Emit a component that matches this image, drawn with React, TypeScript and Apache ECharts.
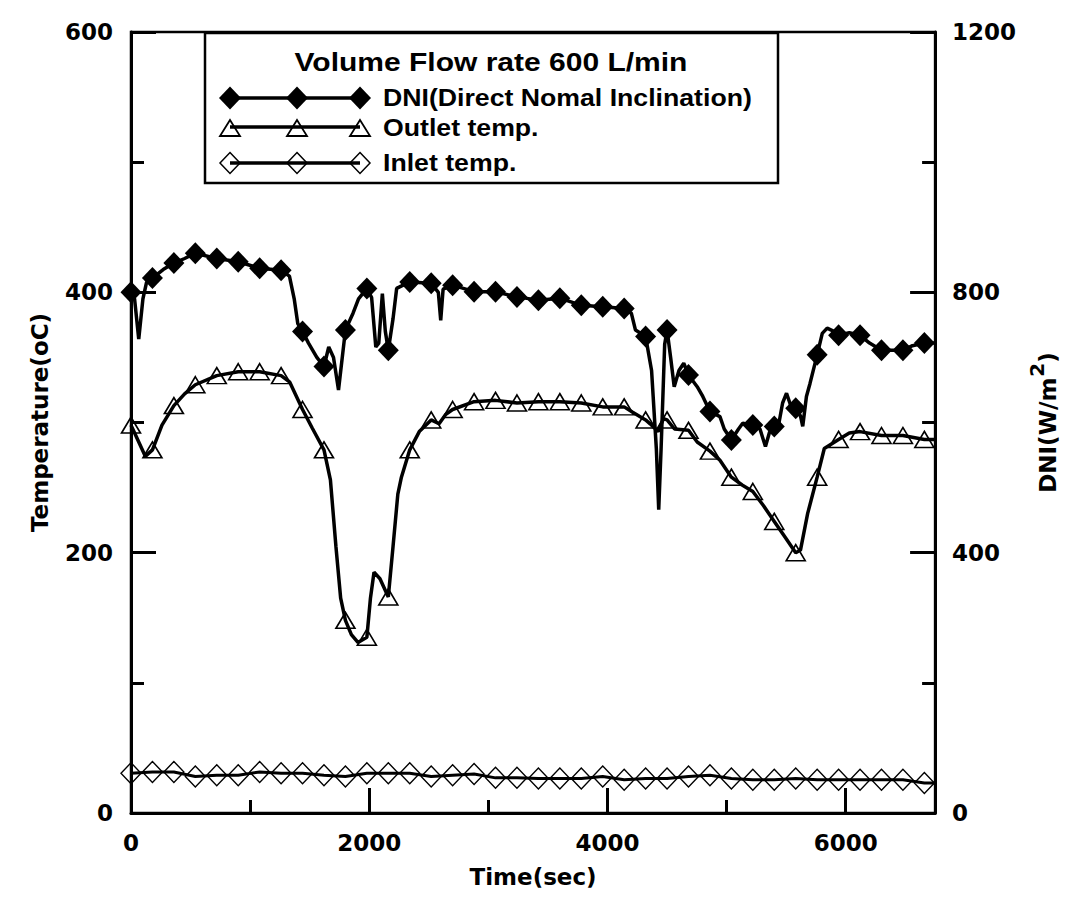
import React, { useEffect, useRef } from "react";
import * as echarts from "echarts";

// [time (s), value, marker flag]
const dniPoints: number[][] = [
  [0, 800, 1], [30, 790, 0], [65, 728, 0], [100, 790, 0], [130, 815, 0], [180, 822, 1],
  [270, 835, 0], [360, 845, 1], [450, 852, 0], [540, 860, 1], [720, 852, 1], [900, 847, 1],
  [1080, 837, 1], [1260, 834, 1], [1330, 825, 0], [1370, 790, 0], [1400, 752, 0], [1440, 740, 1],
  [1490, 722, 0], [1560, 700, 0], [1620, 686, 1], [1660, 716, 0], [1700, 700, 0], [1742, 650, 0],
  [1800, 742, 1], [1864, 768, 0], [1910, 790, 0], [1980, 806, 1], [2020, 792, 0], [2055, 716, 0],
  [2080, 722, 0], [2110, 798, 0], [2135, 740, 0], [2160, 711, 1], [2200, 760, 0], [2230, 806, 0],
  [2340, 816, 1], [2520, 814, 1], [2580, 800, 0], [2600, 757, 0], [2620, 805, 0], [2700, 811, 1],
  [2880, 801, 1], [3060, 801, 1], [3240, 793, 1], [3420, 788, 1], [3600, 791, 1], [3780, 780, 1],
  [3960, 778, 1], [4140, 775, 1], [4200, 768, 0], [4235, 742, 0], [4320, 732, 1], [4370, 680, 0],
  [4410, 560, 0], [4430, 466, 0], [4450, 560, 0], [4480, 720, 0], [4500, 742, 1], [4530, 700, 0],
  [4560, 655, 0], [4600, 680, 0], [4640, 691, 0], [4680, 673, 1], [4753, 655, 0], [4800, 640, 0],
  [4860, 617, 1], [4944, 609, 0], [4980, 590, 0], [5040, 573, 1], [5100, 590, 0], [5135, 599, 0],
  [5220, 596, 1], [5280, 590, 0], [5326, 563, 0], [5360, 585, 0], [5400, 594, 1], [5440, 600, 0],
  [5470, 630, 0], [5503, 645, 0], [5540, 625, 0], [5580, 622, 1], [5620, 610, 0], [5639, 594, 0],
  [5670, 640, 0], [5700, 660, 0], [5760, 704, 1], [5803, 737, 0], [5844, 745, 0], [5900, 740, 0],
  [5940, 734, 1], [6030, 738, 0], [6120, 734, 1], [6200, 722, 0], [6300, 711, 1], [6480, 711, 1],
  [6560, 718, 0], [6660, 722, 1], [6750, 722, 0],
];

const outletPoints: number[][] = [
  [0, 298, 1], [40, 290, 0], [120, 274, 0], [180, 279, 1], [260, 298, 0], [360, 313, 1],
  [450, 322, 0], [540, 329, 1], [720, 336, 1], [900, 339, 1], [1080, 339, 1], [1260, 336, 1],
  [1333, 331, 0], [1440, 310, 1], [1520, 296, 0], [1620, 279, 1], [1674, 256, 0], [1720, 205, 0],
  [1760, 165, 0], [1800, 148, 1], [1850, 137, 0], [1905, 131, 0], [1980, 135, 1], [2010, 165, 0],
  [2040, 185, 0], [2090, 180, 0], [2160, 166, 1], [2200, 205, 0], [2240, 245, 0], [2270, 258, 0],
  [2340, 279, 1], [2420, 293, 0], [2520, 302, 1], [2586, 299, 0], [2640, 306, 0], [2700, 310, 1],
  [2880, 316, 1], [3060, 317, 1], [3240, 315, 1], [3420, 316, 1], [3600, 316, 1], [3780, 315, 1],
  [3960, 312, 1], [4140, 312, 1], [4208, 308, 0], [4320, 302, 1], [4358, 299, 0], [4425, 293, 0],
  [4470, 303, 0], [4500, 302, 1], [4563, 295, 0], [4680, 294, 1], [4753, 285, 0], [4860, 278, 1],
  [4944, 271, 0], [5040, 258, 1], [5130, 252, 0], [5220, 247, 1], [5310, 236, 0], [5400, 224, 1],
  [5490, 212, 0], [5580, 200, 1], [5620, 202, 0], [5680, 230, 0], [5760, 258, 1], [5820, 280, 0],
  [5940, 287, 1], [6030, 292, 0], [6120, 293, 1], [6300, 290, 1], [6480, 290, 1], [6660, 287, 1],
  [6750, 287, 0],
];

const inletPoints: number[][] = [
  [0, 30.5, 1], [180, 31.5, 1], [360, 31.5, 1], [540, 28, 1], [720, 29, 1], [900, 29, 1],
  [1080, 31.5, 1], [1260, 30.5, 1], [1440, 30.5, 1], [1620, 29, 1], [1800, 28, 1], [1980, 30.5, 1],
  [2160, 30.5, 1], [2340, 30.5, 1], [2520, 28, 1], [2700, 29, 1], [2880, 30, 1], [3060, 27, 1],
  [3240, 27, 1], [3420, 26.5, 1], [3600, 26.5, 1], [3780, 26.5, 1], [3960, 28, 1], [4140, 25.5, 1],
  [4320, 26.5, 1], [4500, 26.5, 1], [4680, 28, 1], [4860, 29, 1], [5040, 26.5, 1], [5220, 25.5, 1],
  [5400, 25.5, 1], [5580, 26.5, 1], [5760, 25.5, 1], [5940, 25.5, 1], [6120, 25.5, 1], [6300, 25.5, 1],
  [6480, 25.5, 1], [6660, 23, 1], [6750, 23, 0],
];

const seriesNames = ["DNI(Direct Nomal Inclination)", "Outlet temp.", "Inlet temp."];
const legendTitle = "Volume Flow rate 600 L/min";

const FONT = '"DejaVu Sans", "Liberation Sans", Arial, sans-serif';
const LEGEND_FONT = '"Liberation Sans", Arial, sans-serif';

function toData(points: number[][], symbol: string) {
  return points.map(([t, v, m]) => ({ value: [t, v], symbol: m ? symbol : "none" }));
}

function diamond(x: number, y: number, w: number, h: number) {
  return [[x, y - h / 2], [x + w / 2, y], [x, y + h / 2], [x - w / 2, y]];
}
function triangle(x: number, y: number, w: number, h: number) {
  return [[x, y - h / 2], [x + w / 2, y + h / 2], [x - w / 2, y + h / 2]];
}

export default function App() {
  const ref = useRef<HTMLDivElement>(null);
  useEffect(() => {
    if (!ref.current) return;
    const chart = echarts.init(ref.current, undefined, { renderer: "svg" });
    const plain = (v: number) => String(v);
    const axisLabel = { color: "#000", fontFamily: FONT, fontWeight: "bold" as const, fontSize: 23, formatter: plain };
    const nameStyle = { color: "#000", fontFamily: FONT, fontWeight: "bold" as const, fontSize: 23 };
    const axisLine = { show: true, onZero: false, lineStyle: { color: "#000", width: 3 } };
    const majorTick = { show: true, inside: true, length: 25, lineStyle: { color: "#000", width: 3 } };
    const minorTick = { show: true, splitNumber: 2, length: 13, lineStyle: { color: "#000", width: 3 } };

    const rowX = [230, 297, 360];
    const rows = [
      { y: 98, kind: "fdiamond" },
      { y: 128, kind: "triangle" },
      { y: 163, kind: "odiamond" },
    ];
    const legendChildren: any[] = [
      {
        type: "rect",
        shape: { x: 205, y: 33, width: 573, height: 150 },
        style: { fill: "#fff", stroke: "#000", lineWidth: 2.5 },
      },
      {
        type: "text",
        x: 491,
        y: 62,
        scaleX: 1.2,
        style: { text: legendTitle, align: "center", verticalAlign: "middle", font: `bold 25px ${LEGEND_FONT}`, fill: "#000" },
      },
    ];
    rows.forEach((r, i) => {
      const ly = r.kind === "triangle" ? r.y - 1 : r.y;
      legendChildren.push({
        type: "line",
        shape: { x1: rowX[0], y1: ly, x2: rowX[2], y2: ly },
        style: { stroke: "#000", lineWidth: 3.5 },
      });
      rowX.forEach((x) => {
        if (r.kind === "fdiamond") {
          legendChildren.push({ type: "polygon", shape: { points: diamond(x, r.y, 22, 23) }, style: { fill: "#000" } });
        } else if (r.kind === "triangle") {
          legendChildren.push({ type: "polygon", shape: { points: triangle(x, r.y, 20, 16) }, style: { fill: "none", stroke: "#000", lineWidth: 1.8 } });
        } else {
          legendChildren.push({ type: "polygon", shape: { points: diamond(x, r.y, 20, 21) }, style: { fill: "none", stroke: "#000", lineWidth: 1.5 } });
        }
      });
      legendChildren.push({
        type: "text",
        x: 383,
        y: r.y,
        scaleX: 1.16,
        style: { text: seriesNames[i], align: "left", verticalAlign: "middle", font: `bold 23px ${LEGEND_FONT}`, fill: "#000" },
      });
    });

    chart.setOption({
      animation: false,
      backgroundColor: "#fff",
      grid: { left: 131, right: 111, top: 32, bottom: 89, show: true, borderColor: "#000", borderWidth: 2.5, backgroundColor: "transparent" },
      xAxis: [
        {
          type: "value",
          min: 0,
          max: 6750,
          interval: 2000,
          position: "bottom",
          name: "Time(sec)",
          nameLocation: "middle",
          nameGap: 52,
          nameTextStyle: nameStyle,
          axisLine,
          axisTick: majorTick,
          axisLabel: { ...axisLabel, margin: 18, showMaxLabel: false },
          splitLine: { show: false },
        },
        {
          type: "value",
          min: 0,
          max: 6750,
          interval: 1000,
          position: "bottom",
          axisLine: { show: false, onZero: false },
          axisTick: { show: true, inside: true, length: 13, lineStyle: { color: "#000", width: 3 } },
          axisLabel: { show: false },
          splitLine: { show: false },
        },
      ],
      yAxis: [
        {
          type: "value",
          min: 0,
          max: 600,
          interval: 200,
          position: "left",
          name: "Temperature(oC)",
          nameLocation: "middle",
          nameGap: 80,
          nameTextStyle: nameStyle,
          axisLine,
          axisTick: majorTick,
          minorTick,
          axisLabel: { ...axisLabel, margin: 18 },
          splitLine: { show: false },
          minorSplitLine: { show: false },
        },
        {
          type: "value",
          min: 0,
          max: 1200,
          interval: 400,
          position: "right",
          name: "{a|DNI(W/m}{b|2}{a|)}",
          nameLocation: "middle",
          nameGap: 80,
          nameTextStyle: {
            ...nameStyle,
            rich: {
              a: { fontFamily: FONT, fontWeight: "bold", fontSize: 23, color: "#000", verticalAlign: "bottom", lineHeight: 32 },
              b: { fontFamily: FONT, fontWeight: "bold", fontSize: 20, color: "#000", verticalAlign: "bottom", lineHeight: 20, padding: [0, 0, 12, 1] },
            },
          },
          axisLine,
          axisTick: majorTick,
          minorTick,
          axisLabel: { ...axisLabel, margin: 17 },
          splitLine: { show: false },
          minorSplitLine: { show: false },
        },
      ],
      series: [
        {
          name: seriesNames[0],
          type: "line",
          xAxisIndex: 0,
          yAxisIndex: 1,
          data: toData(dniPoints, "diamond"),
          symbol: "diamond",
          symbolSize: [21, 22],
          showAllSymbol: true,
          lineStyle: { color: "#000", width: 3.5 },
          itemStyle: { color: "#000" },
        },
        {
          name: seriesNames[1],
          type: "line",
          xAxisIndex: 0,
          yAxisIndex: 0,
          data: toData(outletPoints, "triangle"),
          symbol: "triangle",
          symbolSize: [19, 16],
          showAllSymbol: true,
          lineStyle: { color: "#000", width: 3.5 },
          itemStyle: { color: "rgba(0,0,0,0)", borderColor: "#000", borderWidth: 1.6 },
        },
        {
          name: seriesNames[2],
          type: "line",
          xAxisIndex: 0,
          yAxisIndex: 0,
          data: toData(inletPoints, "diamond"),
          symbol: "diamond",
          symbolSize: [20, 21],
          showAllSymbol: true,
          lineStyle: { color: "#000", width: 3 },
          itemStyle: { color: "rgba(0,0,0,0)", borderColor: "#000", borderWidth: 1.4 },
        },
      ],
      graphic: [{ type: "group", z: 100, children: legendChildren }],
    });
    return () => chart.dispose();
  }, []);
  return <div ref={ref} style={{ position: "absolute", left: 0, top: 0, width: 1067, height: 902 }} />;
}
